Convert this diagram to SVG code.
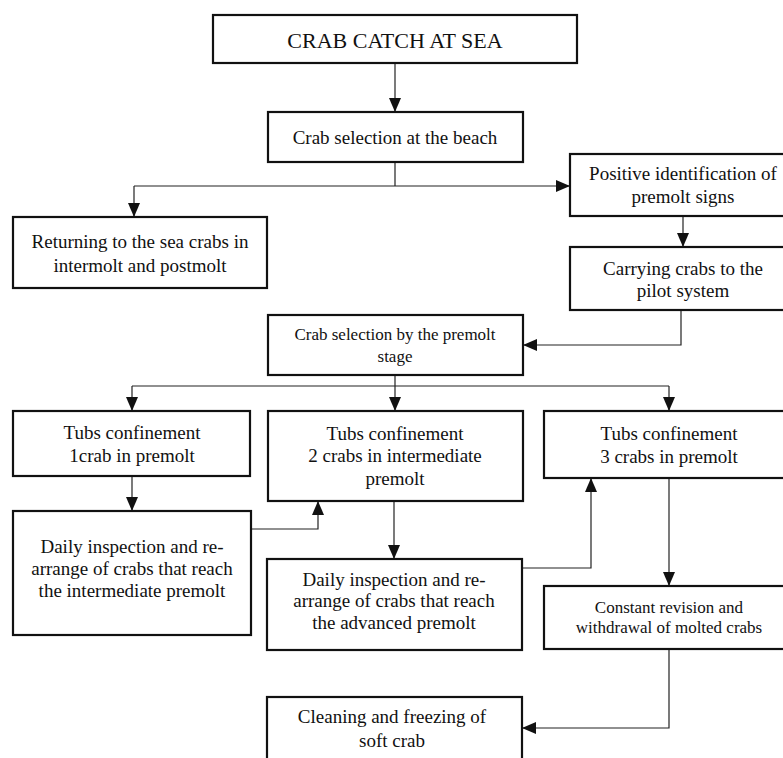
<svg xmlns="http://www.w3.org/2000/svg" width="783" height="758" viewBox="0 0 783 758">
<defs>
<marker id="ah" markerWidth="14" markerHeight="12" viewBox="0 0 14 12" refX="14" refY="6" orient="auto" markerUnits="userSpaceOnUse">
<path d="M0,0 L14,6 L0,12 Z" fill="#111"/>
</marker>
<style>
.box{fill:none;stroke:#111;stroke-width:2.2}
.t{font-family:"Liberation Serif","Times New Roman",serif;font-size:19px;fill:#111;text-anchor:middle}
.s{font-size:17px}
.big{font-size:22px}
.c{fill:none;stroke:#222;stroke-width:1.2}
.a{marker-end:url(#ah)}
</style>
</defs>
<rect width="783" height="758" fill="#fff"/>
<g id="connectors">
<path class="c a" d="M395,63 V112"/>
<path class="c" d="M395,162 V186 M134,186 H395"/>
<path class="c a" d="M134,186 V217"/>
<path class="c a" d="M395,186 H570"/>
<path class="c a" d="M683,216 V247"/>
<path class="c a" d="M681,310 V345 H523"/>
<path class="c" d="M395,375 V386 M132,386 H669"/>
<path class="c a" d="M132,386 V411"/>
<path class="c a" d="M395,386 V411"/>
<path class="c a" d="M669,386 V411"/>
<path class="c a" d="M132,476 V511"/>
<path class="c a" d="M251,529 H318 V501"/>
<path class="c a" d="M394,501 V559"/>
<path class="c a" d="M522,568 H591 V478"/>
<path class="c a" d="M669,478 V586"/>
<path class="c a" d="M669,649 V728 H522"/>
</g>
<g id="n1"><rect class="box" x="213" y="15" width="364" height="48"/><text class="t big" x="395" y="48">CRAB CATCH AT SEA</text></g>
<g id="n2"><rect class="box" x="268" y="112" width="255" height="50"/><text class="t" x="395" y="144">Crab selection at the beach</text></g>
<g id="n3"><rect class="box" x="13" y="217" width="254" height="71"/><text class="t" x="140" y="248">Returning to the sea crabs in</text><text class="t" x="140" y="272">intermolt and postmolt</text></g>
<g id="n4"><rect class="box" x="570" y="154" width="226" height="62"/><text class="t" x="683" y="180">Positive identification of</text><text class="t" x="683" y="203">premolt signs</text></g>
<g id="n5"><rect class="box" x="570" y="247" width="226" height="63"/><text class="t" x="683" y="275">Carrying crabs to the</text><text class="t" x="683" y="297">pilot system</text></g>
<g id="n6"><rect class="box" x="268" y="315" width="255" height="60"/><text class="t s" x="395" y="340">Crab selection by the premolt</text><text class="t s" x="395" y="362">stage</text></g>
<g id="n7"><rect class="box" x="13" y="411" width="237" height="65"/><text class="t" x="132" y="439">Tubs confinement</text><text class="t" x="132" y="462">1crab in premolt</text></g>
<g id="n8"><rect class="box" x="268" y="411" width="255" height="90"/><text class="t" x="395" y="440">Tubs confinement</text><text class="t" x="395" y="462">2 crabs in intermediate</text><text class="t" x="395" y="485">premolt</text></g>
<g id="n9"><rect class="box" x="544" y="411" width="250" height="67"/><text class="t" x="669" y="440">Tubs confinement</text><text class="t" x="669" y="463">3 crabs in premolt</text></g>
<g id="n10"><rect class="box" x="13" y="511" width="238" height="124"/><text class="t" x="132" y="553">Daily inspection and re-</text><text class="t" x="132" y="575">arrange of crabs that reach</text><text class="t" x="132" y="597">the intermediate premolt</text></g>
<g id="n11"><rect class="box" x="267" y="559" width="255" height="91"/><text class="t" x="394" y="586">Daily inspection and re-</text><text class="t" x="394" y="607">arrange of crabs that reach</text><text class="t" x="394" y="629">the advanced premolt</text></g>
<g id="n12"><rect class="box" x="544" y="586" width="250" height="63"/><text class="t s" x="669" y="613">Constant revision and</text><text class="t s" x="669" y="633">withdrawal of molted crabs</text></g>
<g id="n13"><rect class="box" x="267" y="697" width="255" height="70"/><text class="t" x="392" y="723">Cleaning and freezing of</text><text class="t" x="392" y="747">soft crab</text></g>
</svg>
